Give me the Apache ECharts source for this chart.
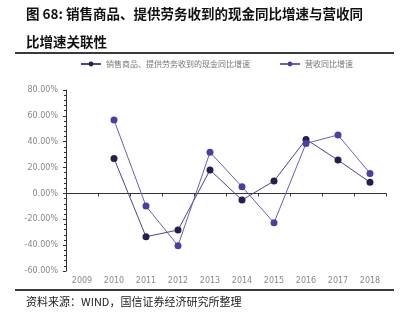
<!DOCTYPE html>
<html>
<head>
<meta charset="utf-8">
<script src="https://cdn.jsdelivr.net/npm/echarts@6/dist/echarts.min.js"></script>
<style>
html,body{margin:0;padding:0;background:#fff;}
#wrap{position:relative;width:409px;height:330px;}
#chart{width:409px;height:330px;}
.rule{position:absolute;left:15px;width:379px;height:2px;background:#3a3a3a;pointer-events:none;}
</style>
</head>
<body>
<div id="wrap">
  <div id="chart"></div>
  <div class="rule" style="top:52px"></div>
  <div class="rule" style="top:289px"></div>
</div>
<script>
const years = ['2009','2010','2011','2012','2013','2014','2015','2016','2017','2018'];
const cashGrowth = [null, 27.1, -33.5, -28.3, 18.1, -5.1, 9.6, 41.8, 25.8, 8.6];
const revenueGrowth = [null, 56.8, -9.8, -40.4, 31.8, 5.2, -22.7, 38.7, 45.2, 15.5];
const cashName = '销售商品、提供劳务收到的现金同比增速';
const revenueName = '营收同比增速';

const chart = echarts.init(document.getElementById('chart'));
const cjk = '"Noto Sans CJK SC", sans-serif';

chart.setOption({
  backgroundColor: '#fff',
  animation: false,
  title: {
    text: '图 68: 销售商品、提供劳务收到的现金同比增速与营收同\n比增速关联性',
    left: 26, top: 0, padding: 0,
    textStyle: {fontFamily: cjk, fontSize: 13.5, fontWeight: 'bold', color: '#111', lineHeight: 28}
  },
  graphic: {
    elements: [
      {type: 'text', left: 26, top: 296, style: {text: '资料来源：WIND，国信证券经济研究所整理', font: '11px "Noto Sans CJK SC", sans-serif', fill: '#222'}}
    ]
  },
  legend: {
    top: 60, left: 80, padding: 0, itemGap: 29, itemWidth: 20, itemHeight: 6,
    textStyle: {fontFamily: cjk, fontSize: 8, color: '#777'},
    data: [cashName, revenueName]
  },
  grid: {left: 66, right: 23, top: 90, bottom: 59},
  xAxis: {
    type: 'category', data: years, boundaryGap: true,
    axisLine: {onZero: true, lineStyle: {color: '#333', width: 1}},
    axisTick: {show: true, length: 3, inside: false, alignWithLabel: false, lineStyle: {color: '#333'}},
    axisLabel: {color: '#888', fontSize: 8, fontFamily: 'DejaVu Sans', margin: 6}
  },
  yAxis: {
    type: 'value', min: -60, max: 80, interval: 20,
    axisLine: {show: true, lineStyle: {color: '#333'}},
    axisTick: {show: true, length: 3, lineStyle: {color: '#333'}},
    minorTick: {show: true, splitNumber: 5, length: 2, lineStyle: {color: '#333'}},
    splitLine: {show: false},
    axisLabel: {color: '#888', fontSize: 8, fontFamily: 'DejaVu Sans', margin: 8,
      formatter: v => v.toFixed(2) + '%'}
  },
  series: [
    {
      name: cashName, type: 'line', data: cashGrowth,
      symbol: 'circle', symbolSize: 7,
      itemStyle: {color: '#23204f'},
      lineStyle: {color: '#4d458f', width: 1}
    },
    {
      name: revenueName, type: 'line', data: revenueGrowth,
      symbol: 'circle', symbolSize: 7,
      itemStyle: {color: '#4a40a3'},
      lineStyle: {color: '#6a61b0', width: 1}
    }
  ]
});
</script>
</body>
</html>
